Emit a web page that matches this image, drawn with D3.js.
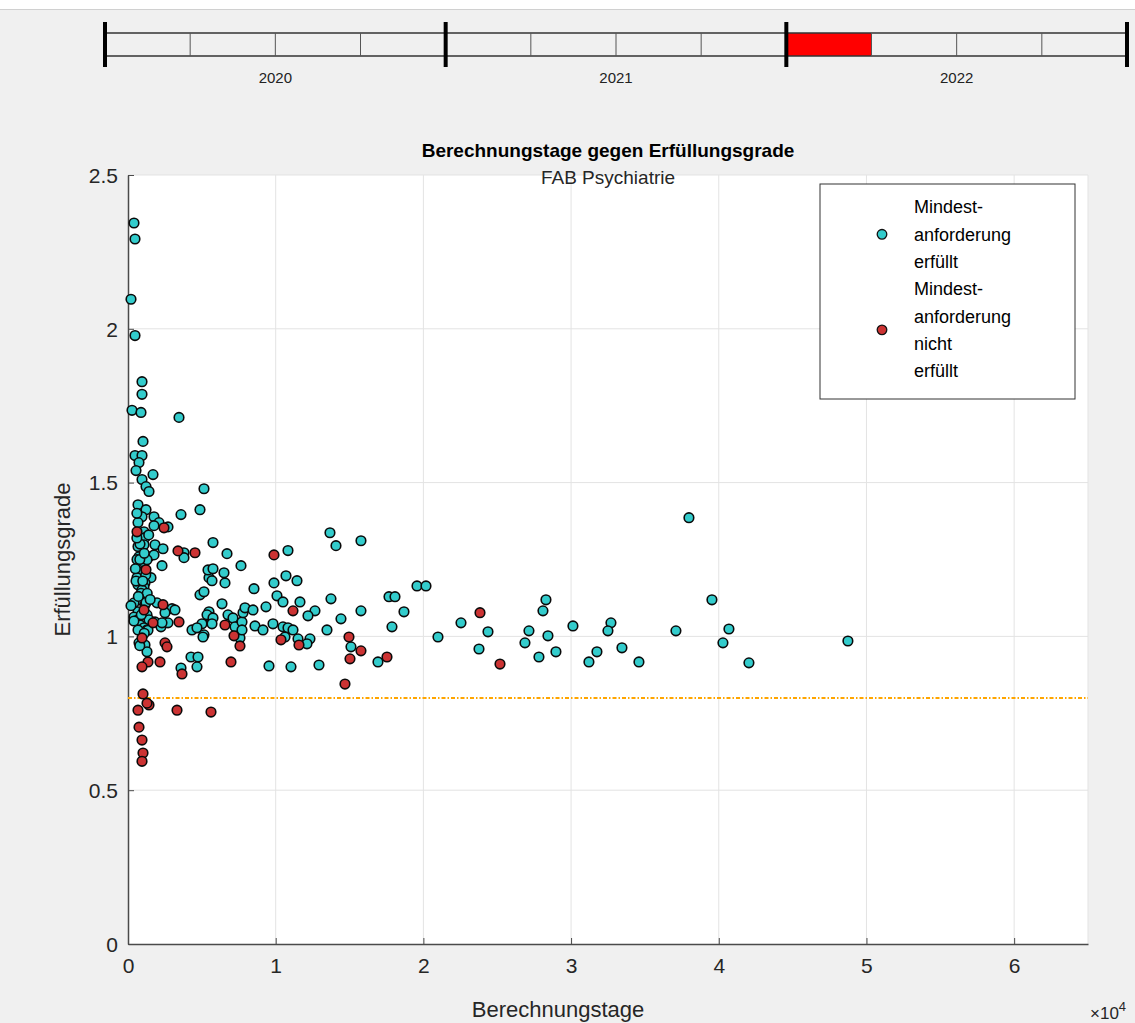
<!DOCTYPE html>
<html><head><meta charset="utf-8">
<script src="https://cdn.jsdelivr.net/npm/d3@7"></script>
<style>
html,body{margin:0;padding:0;background:#f0f0f0;}
svg{display:block;font-family:"Liberation Sans",Arial,sans-serif;}
</style></head>
<body><svg id="c" width="1135" height="1023"></svg>
<script>
// ---------- data ----------
const titleMain = "Berechnungstage gegen Erfüllungsgrade";
const titleSub = "FAB Psychiatrie";
const xLabel = "Berechnungstage";
const yLabel = "Erfüllungsgrade";
const xTicks = [0, 10000, 20000, 30000, 40000, 50000, 60000];
const xTickLabels = ["0","1","2","3","4","5","6"];
const yTicks = [0, 0.5, 1, 1.5, 2, 2.5];
const yTickLabels = ["0","0.5","1","1.5","2","2.5"];
const threshold = 0.8;
const timelineYears = [2020, 2021, 2022];
const quartersPerYear = 4;
const highlightedQuarter = [2022, 1];
const legendLabels = [["Mindest-","anforderung","erfüllt"],["Mindest-","anforderung","nicht","erfüllt"]];

// Mindestanforderung erfüllt
const erfuelltX = [406,474,203,474,948,948,271,880,3453,1016,474,948,745,542,1693,948,1219,1422,5145,677,
1219,3588,4874,948,1760,677,2099,2708,1760,1083,1151,677,1083,1828,2370,3791,3791,745,1422,1760,
1016,1286,2302,948,609,1557,1151,677,1083,948,1286,812,1963,406,1151,2979,677,2505,3182,1286,
406,677,1422,1828,2234,2708,2302,812,1083,1286,677,4333,5010,4671,5145,4874,5145,5484,5551,5484,
5416,1151,745,1286,4265,4739,4671,3588,5755,6703,5755,5687,6499,6567,7650,10832,13675,14082,15774,6364,
5349,5755,5687,5078,6770,7109,7244,7582,7718,7718,7786,7921,8463,8598,8530,9140,9343,9817,9884,10087,
10493,10697,11441,11644,10493,10832,11171,10629,11509,12321,12118,12660,12186,13743,13472,14420,15774,15097,16925,17873,
17671,18077,18686,19567,20176,9546,11036,12931,20988,22546,24374,23765,27148,26877,28299,28096,28434,27825,28975,30126,
31209,31751,32699,32496,33444,34595,37099,37980,39537,40688,40282,42042,48744,203,542,880,1354,609,1219,812,
600,800,1100,500,1300,700,900,1500,400,1100,800,1200,1000,600,1400];
const erfuelltY = [2.344,2.292,2.096,1.978,1.828,1.787,1.735,1.728,1.712,1.634,1.588,1.588,1.565,1.539,1.526,1.510,1.487,1.471,1.480,1.428,
1.412,1.396,1.412,1.389,1.389,1.370,1.370,1.356,1.360,1.340,1.321,1.292,1.298,1.298,1.285,1.272,1.256,1.259,1.259,1.265,
1.243,1.249,1.230,1.210,1.191,1.191,1.174,1.168,1.161,1.151,1.125,1.119,1.109,1.109,1.103,1.090,1.080,1.077,1.086,1.070,
1.063,1.054,1.054,1.047,1.031,1.044,1.044,1.037,1.028,1.021,1.021,1.021,1.041,1.028,1.005,1.135,1.145,1.080,1.063,1.191,
1.216,0.972,0.979,0.950,0.933,0.933,0.901,0.897,1.305,1.269,1.220,1.181,1.207,1.174,1.230,1.279,1.337,1.295,1.311,1.106,
1.070,1.060,1.041,0.998,1.070,1.060,1.031,0.995,1.047,1.021,1.077,1.093,1.086,1.034,1.155,1.021,1.096,1.041,1.174,1.132,
1.112,1.197,1.181,1.112,1.031,1.028,1.021,0.998,0.992,0.992,0.976,1.083,1.067,1.122,1.021,1.057,1.083,0.966,0.917,1.031,
1.129,1.129,1.080,1.164,1.164,0.904,0.901,0.907,0.998,1.044,1.015,0.959,1.018,0.979,1.119,1.083,1.002,0.933,0.950,1.034,
0.917,0.950,1.044,1.018,0.963,0.917,1.018,1.386,1.119,1.024,0.979,0.914,0.985,1.100,1.180,1.140,1.020,1.250,1.110,1.300,
1.320,1.250,1.270,1.220,1.140,1.130,1.070,1.120,1.050,1.010,0.970,1.200,1.180,1.400,1.330];

// Mindestanforderung nicht erfüllt
const nichtX = [609,2437,3385,4536,1219,2370,1083,1693,3453,948,2505,2640,1354,948,2167,3656,1016,1422,1286,677,
3318,5619,745,948,1016,948,6567,7177,7582,6973,9884,11171,10358,11577,14962,15030,15774,14691,17535,23833,25187];
const nichtY = [1.340,1.353,1.278,1.272,1.217,1.103,1.086,1.044,1.047,0.995,0.979,0.966,0.917,0.901,0.917,0.878,0.813,0.777,0.783,0.760,
0.760,0.754,0.705,0.663,0.621,0.594,1.037,1.002,0.969,0.917,1.265,1.083,0.989,0.972,0.998,0.927,0.953,0.845,0.933,1.077,0.910];

// ---------- drawing ----------
const svg = d3.select("#c");
const W = 1135, H = 1023;
svg.append("rect").attr("width",W).attr("height",H).attr("fill","#f0f0f0");
// top strip
svg.append("rect").attr("x",0).attr("y",0).attr("width",W).attr("height",9).attr("fill","#ffffff");
svg.append("line").attr("x1",0).attr("x2",W).attr("y1",9.5).attr("y2",9.5).attr("stroke","#d0d0d0");

// timeline
const tl = d3.scaleLinear().domain([timelineYears[0], timelineYears[timelineYears.length-1]+1]).range([105,1127]);
const tlTop = 33, tlBot = 56;
const hq = highlightedQuarter[0] + (highlightedQuarter[1]-1)/quartersPerYear;
svg.append("rect").attr("x",tl(hq)).attr("y",tlTop).attr("width",tl(hq+1/quartersPerYear)-tl(hq)).attr("height",tlBot-tlTop).attr("fill","#ff0000");
[tlTop,tlBot].forEach(y=>svg.append("line").attr("x1",tl.range()[0]).attr("x2",tl.range()[1]).attr("y1",y).attr("y2",y).attr("stroke","#333").attr("stroke-width",1.5));
const quarters = [];
timelineYears.forEach(y=>{for(let q=1;q<quartersPerYear;q++) quarters.push(y+q/quartersPerYear);});
svg.selectAll(".q").data(quarters).enter().append("line")
  .attr("x1",d=>tl(d)).attr("x2",d=>tl(d)).attr("y1",tlTop).attr("y2",tlBot).attr("stroke","#555").attr("stroke-width",1);
const majors = timelineYears.concat([timelineYears[timelineYears.length-1]+1]);
svg.selectAll(".mj").data(majors).enter().append("line")
  .attr("x1",d=>tl(d)).attr("x2",d=>tl(d)).attr("y1",22).attr("y2",67).attr("stroke","#000").attr("stroke-width",4);
svg.selectAll(".yl").data(timelineYears).enter().append("text")
  .attr("x",d=>tl(d+0.5)).attr("y",83).attr("text-anchor","middle").attr("font-size",15).attr("fill","#222").text(d=>d);

// plot area
const m = {l:128, r:1088, t:175, b:944};
const x = d3.scaleLinear().domain([0,65000]).range([m.l,m.r]);
const y = d3.scaleLinear().domain([0,2.5]).range([m.b,m.t]);
svg.append("rect").attr("x",m.l).attr("y",m.t).attr("width",m.r-m.l).attr("height",m.b-m.t).attr("fill","#fff");

// grid
const g = svg.append("g");
g.selectAll(".gx").data(xTicks.slice(1)).enter().append("line")
  .attr("x1",d=>x(d)).attr("x2",d=>x(d)).attr("y1",m.t).attr("y2",m.b).attr("stroke","#e3e3e3").attr("stroke-width",1);
g.selectAll(".gy").data(yTicks.slice(1)).enter().append("line")
  .attr("x1",m.l).attr("x2",m.r).attr("y1",d=>y(d)).attr("y2",d=>y(d)).attr("stroke","#e3e3e3").attr("stroke-width",1);
g.append("line").attr("x1",m.r).attr("x2",m.r).attr("y1",m.t).attr("y2",m.b).attr("stroke","#e3e3e3");

// axes
const xAxis = d3.axisBottom(x).tickValues(xTicks).tickFormat((d,i)=>xTickLabels[i]).tickSizeInner(-6).tickSizeOuter(0).tickPadding(14);
const yAxis = d3.axisLeft(y).tickValues(yTicks).tickFormat((d,i)=>yTickLabels[i]).tickSizeInner(-6).tickSizeOuter(0).tickPadding(10);
const gx = svg.append("g").attr("transform",`translate(0,${m.b})`).call(xAxis);
const gy = svg.append("g").attr("transform",`translate(${m.l},0)`).call(yAxis);
[gx,gy].forEach(a=>{
  a.select(".domain").attr("stroke","#4a4a4a").attr("stroke-width",1.5);
  a.selectAll(".tick line").attr("stroke","#4a4a4a").attr("stroke-width",1);
  a.selectAll(".tick text").attr("font-size",21).attr("fill","#262626").attr("font-family","Liberation Sans, Arial, sans-serif");
});
gy.selectAll(".tick text").attr("dy","0.35em");

// threshold line
svg.append("line").attr("x1",m.l).attr("x2",m.r).attr("y1",y(threshold)).attr("y2",y(threshold))
  .attr("stroke","#ffa500").attr("stroke-width",2).attr("stroke-dasharray","4,2,1.5,2");

// points
const cyan = "#33cccc", red = "#cc3333";
const ptsC = erfuelltX.map((v,i)=>[v,erfuelltY[i]]);
const ptsR = nichtX.map((v,i)=>[v,nichtY[i]]);
svg.append("g").selectAll("circle").data(ptsC).enter().append("circle")
  .attr("cx",d=>x(d[0])).attr("cy",d=>y(d[1])).attr("r",4.8).attr("fill",cyan).attr("stroke","#0a0a0a").attr("stroke-width",1.6);
svg.append("g").selectAll("circle").data(ptsR).enter().append("circle")
  .attr("cx",d=>x(d[0])).attr("cy",d=>y(d[1])).attr("r",4.8).attr("fill",red).attr("stroke","#0a0a0a").attr("stroke-width",1.6);

// titles
svg.append("text").attr("x",(m.l+m.r)/2).attr("y",157).attr("text-anchor","middle").attr("font-size",19).attr("font-weight","bold").attr("fill","#000").text(titleMain);
svg.append("text").attr("x",(m.l+m.r)/2).attr("y",184).attr("text-anchor","middle").attr("font-size",19).attr("fill","#262626").text(titleSub);

// axis labels
svg.append("text").attr("x",(m.l+m.r)/2 - 50).attr("y",1017).attr("text-anchor","middle").attr("font-size",22).attr("fill","#262626").text(xLabel);
svg.append("text").attr("transform",`translate(70,${(m.t+m.b)/2}) rotate(-90)`).attr("text-anchor","middle").attr("font-size",22).attr("fill","#262626").text(yLabel);
const ex = svg.append("text").attr("x",1090).attr("y",1019).attr("font-size",17).attr("fill","#262626");
ex.append("tspan").text("×10");
ex.append("tspan").attr("dy",-8).attr("font-size",13).text("4");

// legend
const lg = svg.append("g");
lg.append("rect").attr("x",820).attr("y",184).attr("width",255).attr("height",215).attr("fill","#fff").attr("stroke","#333").attr("stroke-width",1);
const lineH = 27.3;
let ly = 207;
legendLabels.forEach((lines,i)=>{
  const startY = ly;
  lines.forEach((t,j)=>{
    lg.append("text").attr("x",914).attr("y",ly).attr("dy","0.35em").attr("font-size",18).attr("fill","#000").text(t);
    ly += lineH;
  });
  const cy = (startY + ly - lineH)/2;
  lg.append("circle").attr("cx",882).attr("cy",cy).attr("r",4.8).attr("fill",i===0?cyan:red).attr("stroke","#111").attr("stroke-width",1.3);
});
</script></body></html>
